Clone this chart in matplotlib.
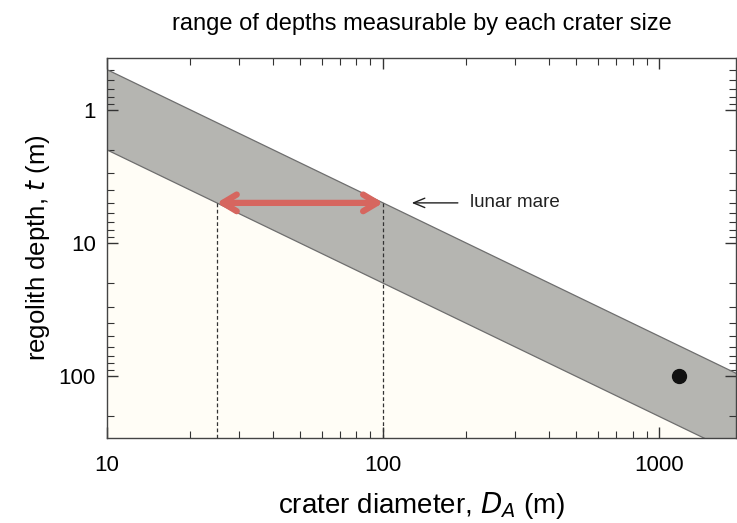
import numpy as np
import matplotlib.pyplot as plt
from matplotlib.ticker import FixedLocator, FixedFormatter, LogLocator, NullFormatter

plt.rcParams['font.family'] = ['Liberation Sans', 'DejaVu Sans']

# band: depth range measurable for a crater of diameter D
diam = np.array([10, 3000])
t_shallow = diam / 20.0   # upper edge of band
t_deep = diam / 5.0       # lower edge of band

# lunar mare example
mare_dmin = 25
mare_dmax = 100
mare_t = 5

# single point
pt_d = [1180]
pt_t = [100]

xlim = (10, 1900)
ylim = (290, 0.41)

fig = plt.figure(figsize=(7.37, 5.23), dpi=100)
ax = fig.add_axes([0.145, 0.1625, 0.854, 0.7265])
ax.set_xscale('log')
ax.set_yscale('log')

# cream region below the band
ax.fill_between(diam, t_deep, 1e4, color='#fffdf6', zorder=0)
ax.fill_between(diam, t_shallow, t_deep, facecolor='#b5b5b1', edgecolor='none', zorder=1)
ax.plot(diam, t_shallow, color='#6e6e6e', lw=0.9, zorder=2)
ax.plot(diam, t_deep, color='#6e6e6e', lw=0.9, zorder=2)

# dashed verticals
for d in (mare_dmin, mare_dmax):
    ax.plot([d, d], [mare_t, 1e4], color='#333333', lw=0.9, ls=(0, (3, 2)), zorder=3)

# red double arrow
ax.annotate('', xy=(mare_dmax, mare_t), xytext=(mare_dmin, mare_t),
            arrowprops=dict(arrowstyle='<->,head_length=1.0,head_width=0.6',
                            color='#d6665f', lw=4.5, shrinkA=0, shrinkB=0),
            zorder=4)

# lunar mare label
ax.annotate('lunar mare', xy=(127, mare_t), xytext=(207, mare_t),
            fontsize=13.5, va='center', ha='left', color='#222222',
            arrowprops=dict(arrowstyle='->,head_length=0.6,head_width=0.25',
                            color='#222222', lw=1.0, shrinkA=7, shrinkB=0))

ax.plot(pt_d, pt_t, 'o', color='#111111', ms=10, zorder=5)

ax.set_xlim(*xlim)
ax.set_ylim(*ylim)

ax.xaxis.set_major_locator(FixedLocator([10, 100, 1000]))
ax.xaxis.set_major_formatter(FixedFormatter(['10', '100', '1000']))
ax.yaxis.set_major_locator(FixedLocator([1, 10, 100]))
ax.yaxis.set_major_formatter(FixedFormatter(['1', '10', '100']))
ax.xaxis.set_minor_locator(LogLocator(base=10, subs=np.arange(2, 10)))
ax.yaxis.set_minor_locator(LogLocator(base=10, subs=np.arange(2, 10)))
ax.xaxis.set_minor_formatter(NullFormatter())
ax.yaxis.set_minor_formatter(NullFormatter())

ax.tick_params(which='both', direction='in', top=True, right=True, color='#333333')
ax.tick_params(which='major', length=8, width=1, labelsize=16)
ax.tick_params(axis='x', which='major', pad=12)
ax.tick_params(axis='y', which='major', pad=8)
ax.tick_params(which='minor', length=5, width=0.8)
for s in ax.spines.values():
    s.set_color('#444444')
    s.set_linewidth(1)

ax.set_xlabel('crater diameter, $\\mathit{D_A}$ (m)', fontsize=20, labelpad=10)
ax.set_ylabel('regolith depth, $\\mathit{t}$ (m)', fontsize=18.5, labelpad=5)
ax.set_title('range of depths measurable by each crater size', fontsize=17, pad=20)

fig.savefig('out.png', dpi=100)
